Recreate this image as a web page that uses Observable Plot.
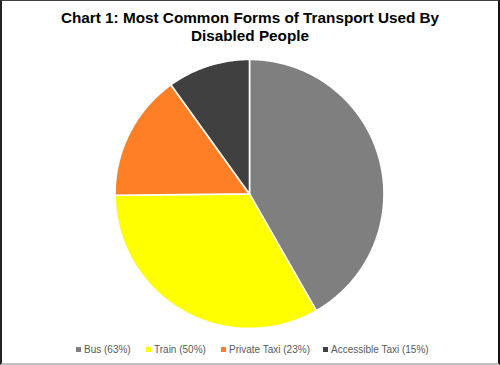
<!DOCTYPE html>
<html>
<head>
<meta charset="utf-8">
<script src="https://cdn.jsdelivr.net/npm/d3@7"></script>
<script src="https://cdn.jsdelivr.net/npm/@observablehq/plot@0.6"></script>
<style>
  html, body { margin: 0; padding: 0; background: #fff; }
  #frame {
    position: relative; width: 500px; height: 365px; box-sizing: border-box;
    border-top: 1px solid #444; border-left: 2px solid #222; border-right: 2px solid #111; border-bottom: 2px solid #c0c0c0;
    font-family: "Liberation Sans", Arial, sans-serif; overflow: hidden;
  }
  #title {
    position: absolute; left: -2px; top: 8px; width: 500px; text-align: center;
    font-weight: bold; font-size: 15.3px; line-height: 18px; color: #000;
  }
  #chart { position: absolute; left: -2px; top: 47px; }
  #legend {
    position: absolute; top: 342px; left: -2px; width: 500px; height: 14px;
    font-size: 10px; color: #595959;
  }
  .item { position: absolute; top: 0; white-space: nowrap; line-height: 14px; }
  .sw { display: inline-block; width: 5px; height: 5px; margin-right: 3px; vertical-align: 1px; }
</style>
</head>
<body>
<div id="frame">
  <div id="title">Chart 1: Most Common Forms of Transport Used By<br>Disabled People</div>
  <div id="chart"></div>
  <div id="legend"></div>
</div>
<script>
const categories = ["Bus", "Train", "Private Taxi", "Accessible Taxi"];
const values = [63, 50, 23, 15];
const colors = ["#7f7f7f", "#ffff00", "#ff7f27", "#404040"];
const legendLabels = ["Bus (63%)", "Train (50%)", "Private Taxi (23%)", "Accessible Taxi (15%)"];

// Build slice polygons (angles clockwise from 12 o'clock) from the values
const total = d3.sum(values);
let acc = 0;
const slices = categories.map((name, i) => {
  const a0 = acc / total * 2 * Math.PI;
  acc += values[i];
  const a1 = acc / total * 2 * Math.PI;
  const n = Math.max(2, Math.ceil((a1 - a0) / (Math.PI / 360)));
  const pts = [{x: 0, y: 0}];
  for (let k = 0; k <= n; k++) {
    const a = a0 + (a1 - a0) * k / n;
    pts.push({x: Math.sin(a), y: Math.cos(a)});
  }
  pts.push({x: 0, y: 0});
  return {name, color: colors[i], pts};
});

const plot = Plot.plot({
  width: 500,
  height: 292,
  marginLeft: 115,
  marginRight: 115,
  marginTop: 11,
  marginBottom: 11,
  x: {domain: [-1, 1], axis: null},
  y: {domain: [-1, 1], axis: null},
  marks: slices.map(s => Plot.line(s.pts, {
    x: "x", y: "y", fill: s.color, stroke: "white", strokeWidth: 1.6, strokeLinejoin: "miter"
  }))
});
document.getElementById("chart").appendChild(plot);

const legend = document.getElementById("legend");
const lefts = [76, 146, 221, 323];
legendLabels.forEach((lab, i) => {
  const d = document.createElement("div");
  d.className = "item";
  d.style.left = lefts[i] + "px";
  d.innerHTML = `<span class="sw" style="background:${colors[i]}"></span>${lab}`;
  legend.appendChild(d);
});
</script>
</body>
</html>
